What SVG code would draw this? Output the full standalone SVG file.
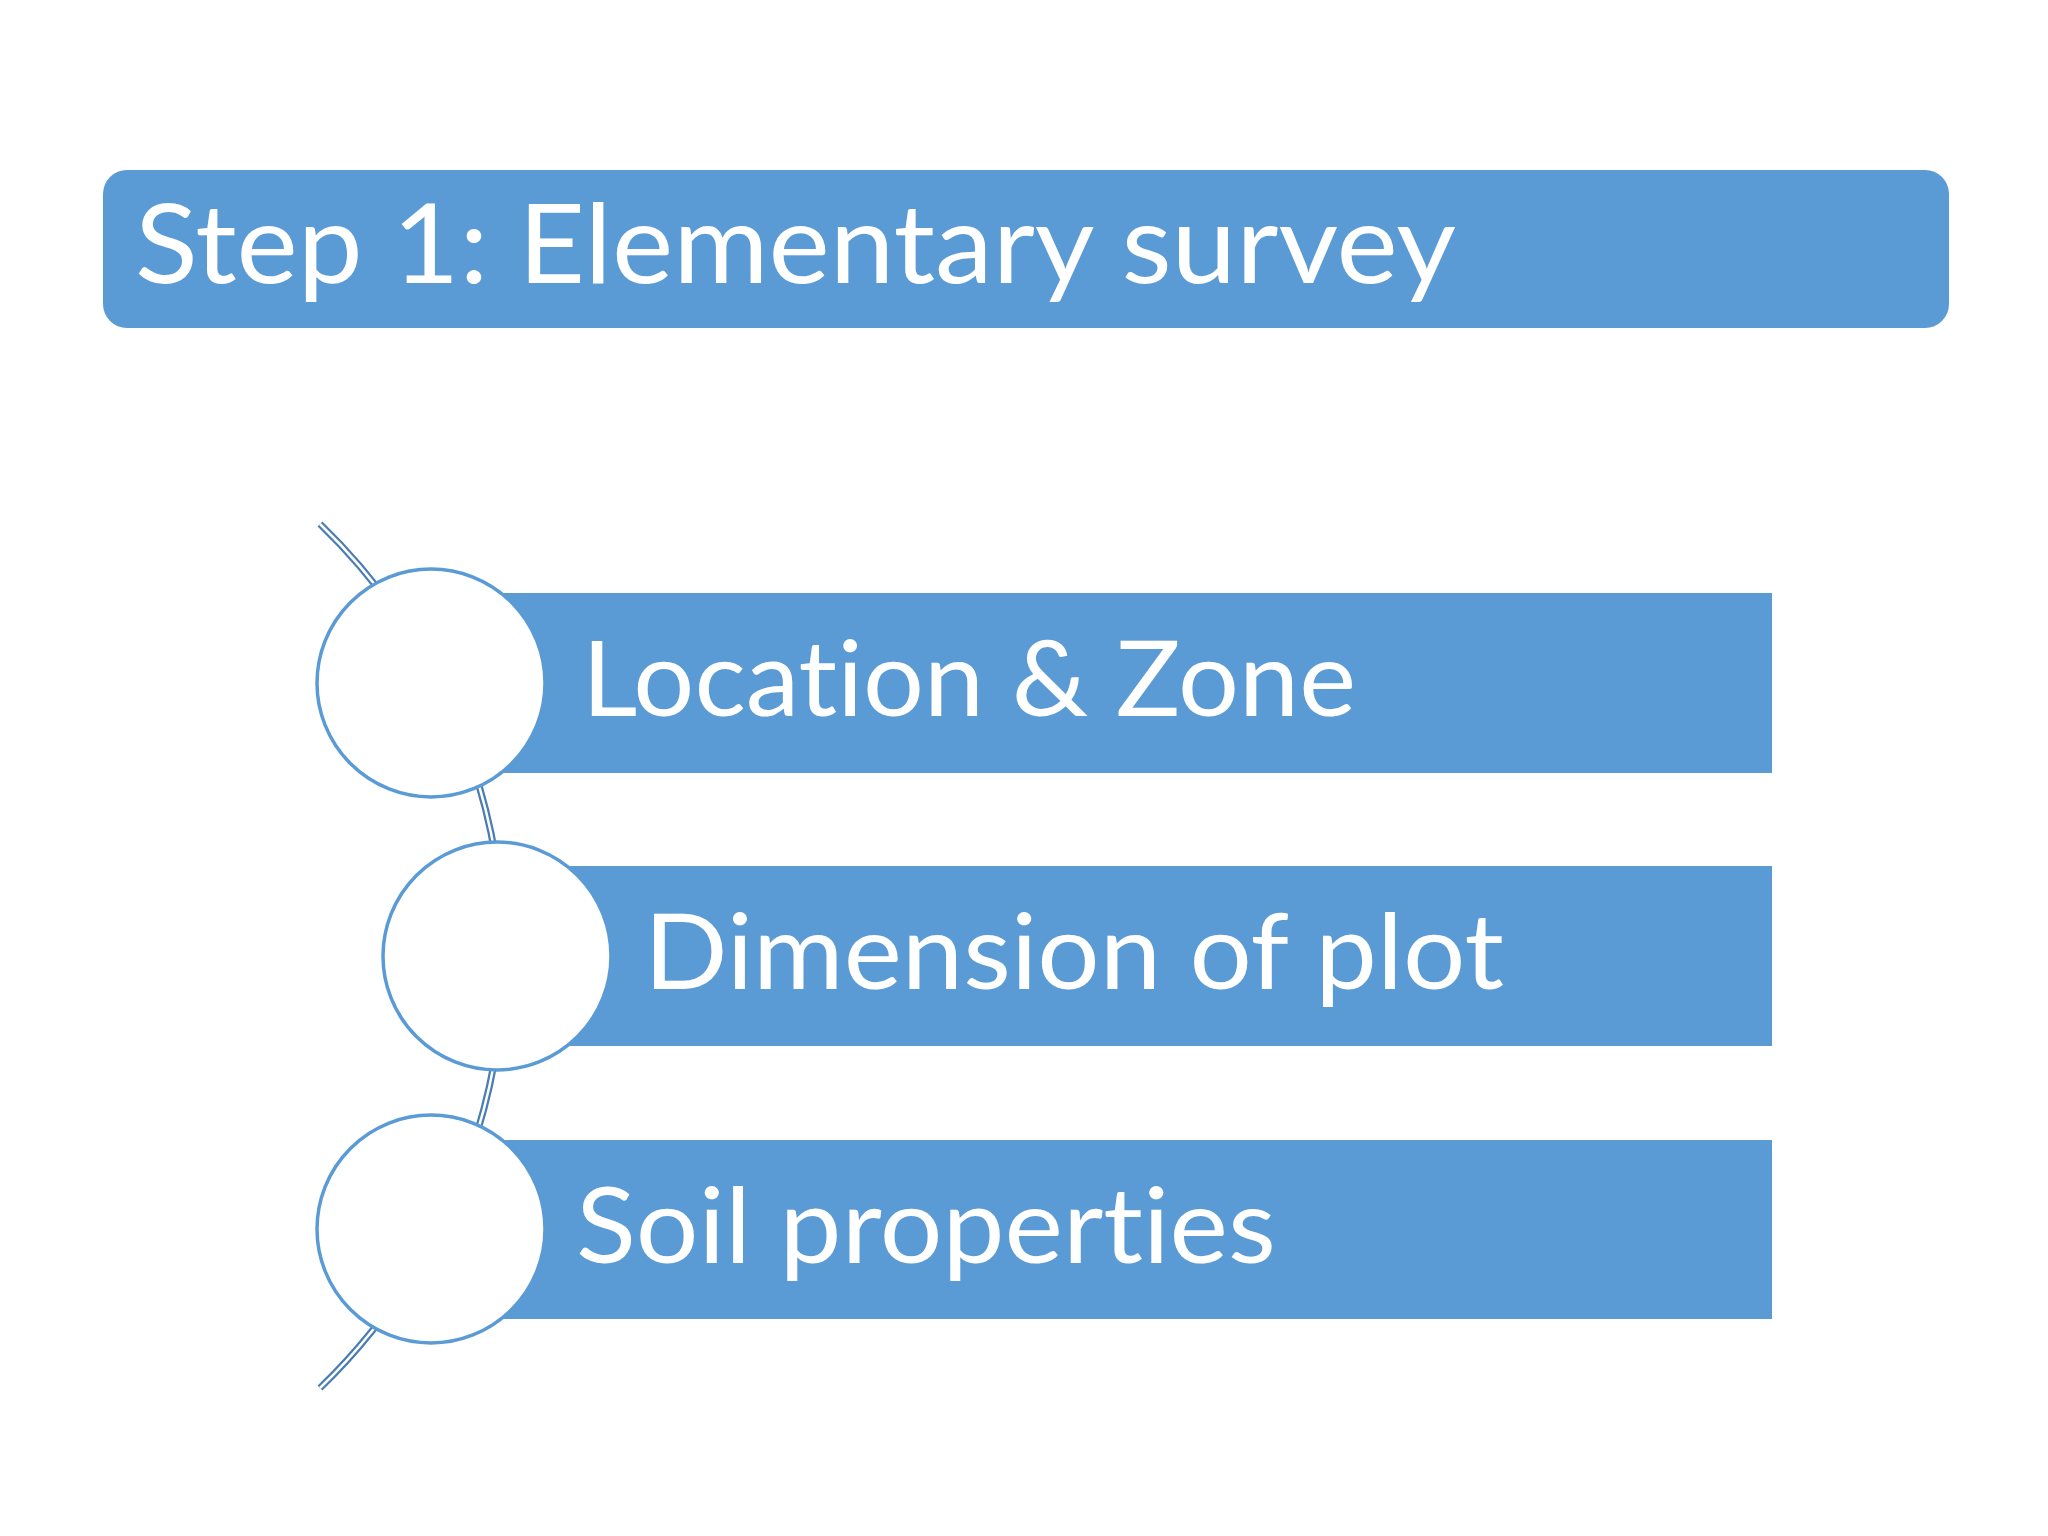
<svg xmlns="http://www.w3.org/2000/svg" width="2048" height="1536" viewBox="0 0 2048 1536">
<style>
.bar{fill:#5b9bd5;}
.circ{fill:#ffffff;stroke:#5b9bd5;stroke-width:3.5;}
.txt{fill:#ffffff;font-family:Lato,"Open Sans","Liberation Sans",sans-serif;font-variant-ligatures:none;font-feature-settings:"liga" 0,"clig" 0;}
.arcO{fill:none;stroke:#4a7db3;stroke-width:7;}
.arcI{fill:none;stroke:#ffffff;stroke-width:2.5;}
</style>
<rect width="2048" height="1536" fill="#ffffff"/>
<g id="title">
<rect x="103" y="170" width="1846" height="158" rx="24" ry="24" class="bar"/>
<text x="135" y="283" class="txt" font-size="111" textLength="1321" lengthAdjust="spacingAndGlyphs">Step 1: Elementary survey</text>
</g>
<g id="connectors">
<path d="M320,524 A600,600 0 0 1 320,1388" class="arcO"/>
<path d="M320,524 A600,600 0 0 1 320,1388" class="arcI"/>
</g>
<g id="item1">
<rect x="431" y="593" width="1341" height="180" class="bar"/>
<circle cx="431" cy="683" r="114" class="circ"/>
<text x="582" y="716" class="txt" font-size="104" textLength="774" lengthAdjust="spacingAndGlyphs">Location &amp; Zone</text>
</g>
<g id="item2">
<rect x="497" y="866" width="1275" height="180" class="bar"/>
<circle cx="497" cy="956" r="114" class="circ"/>
<text x="644" y="989" class="txt" font-size="104" textLength="860" lengthAdjust="spacingAndGlyphs">Dimension of plot</text>
</g>
<g id="item3">
<rect x="431" y="1140" width="1341" height="179" class="bar"/>
<circle cx="431" cy="1229" r="114" class="circ"/>
<text x="576" y="1263" class="txt" font-size="104" textLength="700" lengthAdjust="spacingAndGlyphs">Soil properties</text>
</g>
</svg>
